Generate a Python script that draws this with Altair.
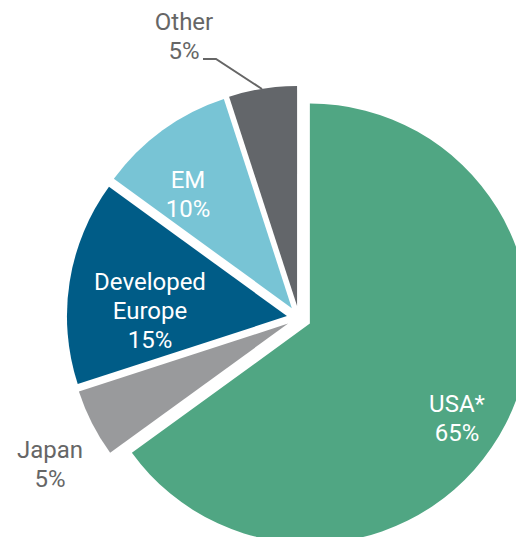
import math
import altair as alt
import pandas as pd

# ---- data ----
REGIONS = ["USA*", "Japan", "Developed Europe", "EM", "Other"]
SHARES = [65, 5, 15, 10, 5]
LABELS = ["USA*\n65%", "Japan\n5%", "Developed\nEurope\n15%", "EM\n10%", "Other\n5%"]

# ---- styles / layout ----
COLORS = ["#50a683", "#999a9c", "#005c87", "#78c4d5", "#63666a"]
LABEL_COLORS = ["#ffffff", "#666666", "#ffffff", "#ffffff", "#666666"]
LABEL_X = [449, 42, 142, 180, 176]
LABEL_Y = [396.5, 443.0, 275.0, 173.0, 15.0]   # first-line positions
LEADER_X = [195, 208, 254]
LEADER_Y = [51, 51, 81]

W, H = 508, 529
CX, CY = 291, 310
R = 220
EXPLODE = 12.2

slices = pd.DataFrame({"region": REGIONS, "share": SHARES, "idx": range(len(REGIONS))})

arcs = (
    alt.Chart(slices)
    .transform_window(cum="sum(share)", sort=[alt.SortField("idx")], frame=[None, 0])
    .transform_joinaggregate(total="sum(share)")
    .transform_calculate(
        t0="(datum.cum - datum.share) / datum.total",
        t1="datum.cum / datum.total",
        mid="(datum.cum - datum.share / 2) / datum.total * 2 * PI",
    )
    .transform_calculate(
        ox=f"{CX} + {EXPLODE} * sin(datum.mid)",
        oy=f"{CY} - {EXPLODE} * cos(datum.mid)",
    )
    .mark_arc(outerRadius=R, innerRadius=0, stroke=None)
    .encode(
        theta=alt.Theta("t0:Q", scale=alt.Scale(domain=[0, 1], range=[0, 2 * math.pi])),
        theta2="t1:Q",
        x=alt.X("ox:Q", scale=None, axis=None),
        y=alt.Y("oy:Q", scale=None, axis=None),
        color=alt.Color("region:N", scale=alt.Scale(domain=REGIONS, range=COLORS), legend=None),
    )
)

leader_df = pd.DataFrame({"lx": LEADER_X, "ly": LEADER_Y, "k": range(len(LEADER_X))})
leader = (
    alt.Chart(leader_df)
    .mark_line(color="#666666", strokeWidth=2)
    .encode(
        x=alt.X("lx:Q", scale=None, axis=None),
        y=alt.Y("ly:Q", scale=None, axis=None),
        order="k:Q",
    )
)

label_df = pd.DataFrame({"label": LABELS, "lx": LABEL_X, "ly": LABEL_Y, "c": LABEL_COLORS})
labels = (
    alt.Chart(label_df)
    .mark_text(font="Roboto", fontSize=24, lineBreak="\n", lineHeight=29,
               align="center", baseline="middle")
    .encode(
        x=alt.X("lx:Q", scale=None, axis=None),
        y=alt.Y("ly:Q", scale=None, axis=None),
        text="label:N",
        color=alt.Color("c:N", scale=None),
    )
)

chart = (
    alt.layer(arcs, leader, labels)
    .properties(width=W, height=H, padding=0, autosize=alt.AutoSizeParams(type="none"),
                background="white")
    .configure_view(stroke=None)
)

chart.save("out.html", embed_options={"renderer": "svg", "actions": False})
